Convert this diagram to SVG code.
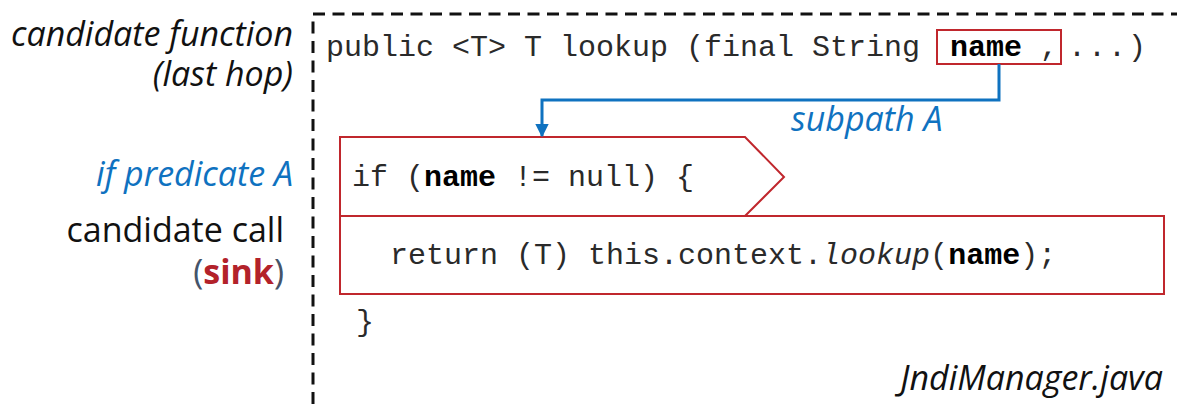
<svg xmlns="http://www.w3.org/2000/svg" width="1177" height="404" viewBox="0 0 1177 404">
  <defs>
    <style>
      .lbl { font-family: "Open Sans", "Liberation Sans", sans-serif; font-size: 34px; fill: #111; }
      .it { font-style: italic; }
      .blue { fill: #0f72c0; }
      .code { font-family: "Liberation Mono", "Courier New", monospace; font-size: 30px; fill: #2a2a2a; }
      .b { font-weight: bold; fill: #000; }
      .box { fill: none; stroke: #c0272d; stroke-width: 2; }
      .edge { fill: none; stroke: #0f72c0; stroke-width: 3; }
    </style>
    <marker id="arrow" viewBox="0 0 10 10" refX="9" refY="5" markerWidth="4.5" markerHeight="4.5" markerUnits="strokeWidth" orient="auto">
      <path d="M0,0 L10,5 L0,10 z" fill="#0f72c0"/>
    </marker>
  </defs>

  <!-- side labels -->
  <g id="labels">
    <text class="lbl it" text-anchor="end"><tspan x="293" y="46">candidate function</tspan><tspan x="293" y="86">(last hop)</tspan></text>
    <text class="lbl it blue" x="293" y="186" text-anchor="end">if predicate A</text>
    <text class="lbl" text-anchor="end"><tspan x="284" y="242">candidate call</tspan><tspan x="284" y="284"><tspan fill="#44546a">(</tspan><tspan font-weight="bold" fill="#b3222a">sink</tspan><tspan fill="#44546a">)</tspan></tspan></text>
  </g>

  <!-- source file frame -->
  <g id="frame">
    <path d="M313,404 L313,14 L1177,14" fill="none" stroke="#111" stroke-width="3" stroke-dasharray="12 7.5"/>
    <text class="lbl it" x="1163" y="390" text-anchor="end" font-size="32">JndiManager.java</text>
  </g>

  <!-- function signature with the tainted parameter -->
  <g id="signature">
    <text class="code" x="326" y="56">public &lt;T&gt; T lookup (final String</text>
    <rect class="box" x="937" y="30" width="124" height="34"/>
    <text class="code" x="950" y="56"><tspan class="b">name</tspan> ,</text>
    <text class="code" x="1068" y="56" letter-spacing="2">...)</text>
  </g>

  <!-- guarding predicate -->
  <g id="predicate">
    <path class="box" d="M340,216 L340,137 L745,137 L784,177 L745,216"/>
    <text class="code" x="352" y="186">if (<tspan class="b">name</tspan> != null) {</text>
  </g>

  <!-- sink call -->
  <g id="sink">
    <rect class="box" x="340" y="216" width="824" height="78" stroke-width="2.5"/>
    <text class="code" x="390" y="264">return (T) this.context.<tspan font-style="italic">lookup</tspan>(<tspan class="b">name</tspan>);</text>
  </g>

  <g id="closing">
    <text class="code" x="356" y="331" font-size="24">}</text>
  </g>

  <!-- data-flow connector -->
  <g id="connectors">
    <path class="edge" d="M999,64 L999,100 L542,100 L542,136" marker-end="url(#arrow)"/>
    <text class="lbl it blue" x="791" y="131" font-size="27">subpath A</text>
  </g>
</svg>
